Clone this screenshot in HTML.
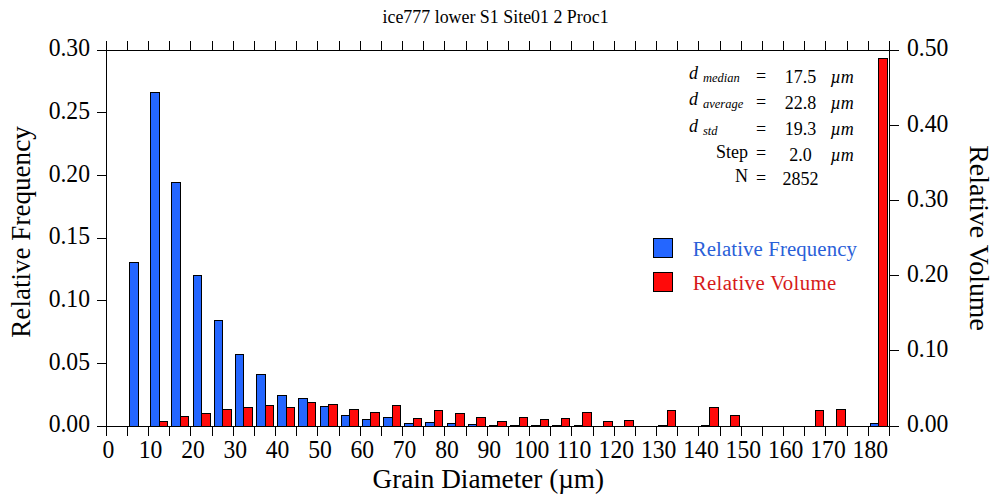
<!DOCTYPE html><html><head><meta charset="utf-8"><style>html,body{margin:0;padding:0;background:#fff;}svg{display:block;}text{font-family:"Liberation Serif",serif;}</style></head><body>
<svg width="1000" height="501" viewBox="0 0 1000 501">
<rect x="0" y="0" width="1000" height="501" fill="#fff"/>
<g stroke="#000" stroke-width="1" shape-rendering="crispEdges">
<rect x="129.5" y="262.5" width="9.0" height="164.0" fill="#2466ff"/>
<rect x="150.5" y="92.5" width="9.0" height="334.0" fill="#2466ff"/>
<rect x="159.5" y="421.5" width="8.0" height="5.0" fill="#ff0a0a"/>
<rect x="171.5" y="182.5" width="9.0" height="244.0" fill="#2466ff"/>
<rect x="180.5" y="416.5" width="8.0" height="10.0" fill="#ff0a0a"/>
<rect x="193.5" y="275.5" width="8.0" height="151.0" fill="#2466ff"/>
<rect x="201.5" y="413.5" width="9.0" height="13.0" fill="#ff0a0a"/>
<rect x="214.5" y="320.5" width="8.0" height="106.0" fill="#2466ff"/>
<rect x="222.5" y="409.5" width="9.0" height="17.0" fill="#ff0a0a"/>
<rect x="235.5" y="354.5" width="8.0" height="72.0" fill="#2466ff"/>
<rect x="243.5" y="407.5" width="9.0" height="19.0" fill="#ff0a0a"/>
<rect x="256.5" y="374.5" width="9.0" height="52.0" fill="#2466ff"/>
<rect x="265.5" y="405.5" width="8.0" height="21.0" fill="#ff0a0a"/>
<rect x="277.5" y="395.5" width="9.0" height="31.0" fill="#2466ff"/>
<rect x="286.5" y="407.5" width="8.0" height="19.0" fill="#ff0a0a"/>
<rect x="298.5" y="398.5" width="9.0" height="28.0" fill="#2466ff"/>
<rect x="307.5" y="402.5" width="8.0" height="24.0" fill="#ff0a0a"/>
<rect x="320.5" y="406.5" width="8.0" height="20.0" fill="#2466ff"/>
<rect x="328.5" y="404.5" width="9.0" height="22.0" fill="#ff0a0a"/>
<rect x="341.5" y="415.5" width="8.0" height="11.0" fill="#2466ff"/>
<rect x="349.5" y="409.5" width="9.0" height="17.0" fill="#ff0a0a"/>
<rect x="362.5" y="419.5" width="8.0" height="7.0" fill="#2466ff"/>
<rect x="370.5" y="412.5" width="9.0" height="14.0" fill="#ff0a0a"/>
<rect x="383.5" y="417.5" width="9.0" height="9.0" fill="#2466ff"/>
<rect x="392.5" y="405.5" width="8.0" height="21.0" fill="#ff0a0a"/>
<rect x="404.5" y="423.5" width="9.0" height="3.0" fill="#2466ff"/>
<rect x="413.5" y="418.5" width="8.0" height="8.0" fill="#ff0a0a"/>
<rect x="425.5" y="422.5" width="9.0" height="4.0" fill="#2466ff"/>
<rect x="434.5" y="410.5" width="8.0" height="16.0" fill="#ff0a0a"/>
<rect x="447.5" y="423.5" width="8.0" height="3.0" fill="#2466ff"/>
<rect x="455.5" y="413.5" width="9.0" height="13.0" fill="#ff0a0a"/>
<rect x="468.5" y="424.5" width="8.0" height="2.0" fill="#2466ff"/>
<rect x="476.5" y="417.5" width="9.0" height="9.0" fill="#ff0a0a"/>
<rect x="489.5" y="425.5" width="8.0" height="1.0" fill="#2466ff"/>
<rect x="497.5" y="421.5" width="9.0" height="5.0" fill="#ff0a0a"/>
<rect x="510.5" y="425.5" width="9.0" height="1.0" fill="#2466ff"/>
<rect x="519.5" y="417.5" width="8.0" height="9.0" fill="#ff0a0a"/>
<rect x="531.5" y="425.5" width="9.0" height="1.0" fill="#2466ff"/>
<rect x="540.5" y="419.5" width="8.0" height="7.0" fill="#ff0a0a"/>
<rect x="552.5" y="425.5" width="9.0" height="1.0" fill="#2466ff"/>
<rect x="561.5" y="418.5" width="8.0" height="8.0" fill="#ff0a0a"/>
<rect x="574.5" y="425.5" width="8.0" height="1.0" fill="#2466ff"/>
<rect x="582.5" y="412.5" width="9.0" height="14.0" fill="#ff0a0a"/>
<rect x="603.5" y="421.5" width="9.0" height="5.0" fill="#ff0a0a"/>
<rect x="624.5" y="420.5" width="9.0" height="6.0" fill="#ff0a0a"/>
<rect x="658.5" y="425.5" width="9.0" height="1.0" fill="#2466ff"/>
<rect x="667.5" y="410.5" width="8.0" height="16.0" fill="#ff0a0a"/>
<rect x="701.5" y="425.5" width="8.0" height="1.0" fill="#2466ff"/>
<rect x="709.5" y="407.5" width="9.0" height="19.0" fill="#ff0a0a"/>
<rect x="730.5" y="415.5" width="9.0" height="11.0" fill="#ff0a0a"/>
<rect x="815.5" y="410.5" width="8.0" height="16.0" fill="#ff0a0a"/>
<rect x="836.5" y="409.5" width="9.0" height="17.0" fill="#ff0a0a"/>
<rect x="870.5" y="423.5" width="8.0" height="3.0" fill="#2466ff"/>
<rect x="878.5" y="58.5" width="9.0" height="368.0" fill="#ff0a0a"/>
</g>
<g stroke="#000" stroke-width="1" shape-rendering="crispEdges" fill="none">
<line x1="97" y1="426.5" x2="899" y2="426.5"/>
<line x1="97" y1="50.5" x2="899" y2="50.5"/>
<line x1="106.5" y1="50" x2="106.5" y2="427"/>
<line x1="889.5" y1="50" x2="889.5" y2="427"/>
<line x1="106.5" y1="41" x2="106.5" y2="51"/>
<line x1="106.5" y1="426" x2="106.5" y2="436"/>
<line x1="127.5" y1="41" x2="127.5" y2="51"/>
<line x1="127.5" y1="426" x2="127.5" y2="436"/>
<line x1="148.5" y1="41" x2="148.5" y2="51"/>
<line x1="148.5" y1="426" x2="148.5" y2="436"/>
<line x1="169.5" y1="41" x2="169.5" y2="51"/>
<line x1="169.5" y1="426" x2="169.5" y2="436"/>
<line x1="190.5" y1="41" x2="190.5" y2="51"/>
<line x1="190.5" y1="426" x2="190.5" y2="436"/>
<line x1="212.5" y1="41" x2="212.5" y2="51"/>
<line x1="212.5" y1="426" x2="212.5" y2="436"/>
<line x1="233.5" y1="41" x2="233.5" y2="51"/>
<line x1="233.5" y1="426" x2="233.5" y2="436"/>
<line x1="254.5" y1="41" x2="254.5" y2="51"/>
<line x1="254.5" y1="426" x2="254.5" y2="436"/>
<line x1="275.5" y1="41" x2="275.5" y2="51"/>
<line x1="275.5" y1="426" x2="275.5" y2="436"/>
<line x1="296.5" y1="41" x2="296.5" y2="51"/>
<line x1="296.5" y1="426" x2="296.5" y2="436"/>
<line x1="317.5" y1="41" x2="317.5" y2="51"/>
<line x1="317.5" y1="426" x2="317.5" y2="436"/>
<line x1="339.5" y1="41" x2="339.5" y2="51"/>
<line x1="339.5" y1="426" x2="339.5" y2="436"/>
<line x1="360.5" y1="41" x2="360.5" y2="51"/>
<line x1="360.5" y1="426" x2="360.5" y2="436"/>
<line x1="381.5" y1="41" x2="381.5" y2="51"/>
<line x1="381.5" y1="426" x2="381.5" y2="436"/>
<line x1="402.5" y1="41" x2="402.5" y2="51"/>
<line x1="402.5" y1="426" x2="402.5" y2="436"/>
<line x1="423.5" y1="41" x2="423.5" y2="51"/>
<line x1="423.5" y1="426" x2="423.5" y2="436"/>
<line x1="444.5" y1="41" x2="444.5" y2="51"/>
<line x1="444.5" y1="426" x2="444.5" y2="436"/>
<line x1="466.5" y1="41" x2="466.5" y2="51"/>
<line x1="466.5" y1="426" x2="466.5" y2="436"/>
<line x1="487.5" y1="41" x2="487.5" y2="51"/>
<line x1="487.5" y1="426" x2="487.5" y2="436"/>
<line x1="508.5" y1="41" x2="508.5" y2="51"/>
<line x1="508.5" y1="426" x2="508.5" y2="436"/>
<line x1="529.5" y1="41" x2="529.5" y2="51"/>
<line x1="529.5" y1="426" x2="529.5" y2="436"/>
<line x1="550.5" y1="41" x2="550.5" y2="51"/>
<line x1="550.5" y1="426" x2="550.5" y2="436"/>
<line x1="571.5" y1="41" x2="571.5" y2="51"/>
<line x1="571.5" y1="426" x2="571.5" y2="436"/>
<line x1="593.5" y1="41" x2="593.5" y2="51"/>
<line x1="593.5" y1="426" x2="593.5" y2="436"/>
<line x1="614.5" y1="41" x2="614.5" y2="51"/>
<line x1="614.5" y1="426" x2="614.5" y2="436"/>
<line x1="635.5" y1="41" x2="635.5" y2="51"/>
<line x1="635.5" y1="426" x2="635.5" y2="436"/>
<line x1="656.5" y1="41" x2="656.5" y2="51"/>
<line x1="656.5" y1="426" x2="656.5" y2="436"/>
<line x1="677.5" y1="41" x2="677.5" y2="51"/>
<line x1="677.5" y1="426" x2="677.5" y2="436"/>
<line x1="698.5" y1="41" x2="698.5" y2="51"/>
<line x1="698.5" y1="426" x2="698.5" y2="436"/>
<line x1="720.5" y1="41" x2="720.5" y2="51"/>
<line x1="720.5" y1="426" x2="720.5" y2="436"/>
<line x1="741.5" y1="41" x2="741.5" y2="51"/>
<line x1="741.5" y1="426" x2="741.5" y2="436"/>
<line x1="762.5" y1="41" x2="762.5" y2="51"/>
<line x1="762.5" y1="426" x2="762.5" y2="436"/>
<line x1="783.5" y1="41" x2="783.5" y2="51"/>
<line x1="783.5" y1="426" x2="783.5" y2="436"/>
<line x1="804.5" y1="41" x2="804.5" y2="51"/>
<line x1="804.5" y1="426" x2="804.5" y2="436"/>
<line x1="825.5" y1="41" x2="825.5" y2="51"/>
<line x1="825.5" y1="426" x2="825.5" y2="436"/>
<line x1="847.5" y1="41" x2="847.5" y2="51"/>
<line x1="847.5" y1="426" x2="847.5" y2="436"/>
<line x1="868.5" y1="41" x2="868.5" y2="51"/>
<line x1="868.5" y1="426" x2="868.5" y2="436"/>
<line x1="889.5" y1="41" x2="889.5" y2="51"/>
<line x1="889.5" y1="426" x2="889.5" y2="436"/>
<line x1="97" y1="426.5" x2="107" y2="426.5"/>
<line x1="97" y1="363.5" x2="107" y2="363.5"/>
<line x1="97" y1="300.5" x2="107" y2="300.5"/>
<line x1="97" y1="238.5" x2="107" y2="238.5"/>
<line x1="97" y1="175.5" x2="107" y2="175.5"/>
<line x1="97" y1="112.5" x2="107" y2="112.5"/>
<line x1="97" y1="50.5" x2="107" y2="50.5"/>
<line x1="889" y1="426.5" x2="899" y2="426.5"/>
<line x1="889" y1="350.5" x2="899" y2="350.5"/>
<line x1="889" y1="275.5" x2="899" y2="275.5"/>
<line x1="889" y1="200.5" x2="899" y2="200.5"/>
<line x1="889" y1="125.5" x2="899" y2="125.5"/>
<line x1="889" y1="50.5" x2="899" y2="50.5"/>
</g>
<g font-size="24" fill="#000">
<text transform="translate(90,432.3) scale(0.985,1.05)" text-anchor="end">0.00</text>
<text transform="translate(90,369.6) scale(0.985,1.05)" text-anchor="end">0.05</text>
<text transform="translate(90,307.0) scale(0.985,1.05)" text-anchor="end">0.10</text>
<text transform="translate(90,244.3) scale(0.985,1.05)" text-anchor="end">0.15</text>
<text transform="translate(90,181.6) scale(0.985,1.05)" text-anchor="end">0.20</text>
<text transform="translate(90,119.0) scale(0.985,1.05)" text-anchor="end">0.25</text>
<text transform="translate(90,56.3) scale(0.985,1.05)" text-anchor="end">0.30</text>
<text transform="translate(907,432.3) scale(0.985,1.05)">0.00</text>
<text transform="translate(907,357.1) scale(0.985,1.05)">0.10</text>
<text transform="translate(907,281.9) scale(0.985,1.05)">0.20</text>
<text transform="translate(907,206.7) scale(0.985,1.05)">0.30</text>
<text transform="translate(907,131.5) scale(0.985,1.05)">0.40</text>
<text transform="translate(907,56.3) scale(0.985,1.05)">0.50</text>
<text transform="translate(108.3,458) scale(0.985,1.05)" text-anchor="middle">0</text>
<text transform="translate(150.6,458) scale(0.985,1.05)" text-anchor="middle">10</text>
<text transform="translate(193.0,458) scale(0.985,1.05)" text-anchor="middle">20</text>
<text transform="translate(235.3,458) scale(0.985,1.05)" text-anchor="middle">30</text>
<text transform="translate(277.6,458) scale(0.985,1.05)" text-anchor="middle">40</text>
<text transform="translate(320.0,458) scale(0.985,1.05)" text-anchor="middle">50</text>
<text transform="translate(362.3,458) scale(0.985,1.05)" text-anchor="middle">60</text>
<text transform="translate(404.6,458) scale(0.985,1.05)" text-anchor="middle">70</text>
<text transform="translate(447.0,458) scale(0.985,1.05)" text-anchor="middle">80</text>
<text transform="translate(489.3,458) scale(0.985,1.05)" text-anchor="middle">90</text>
<text transform="translate(531.7,458) scale(0.985,1.05)" text-anchor="middle">100</text>
<text transform="translate(574.0,458) scale(0.985,1.05)" text-anchor="middle">110</text>
<text transform="translate(616.3,458) scale(0.985,1.05)" text-anchor="middle">120</text>
<text transform="translate(658.7,458) scale(0.985,1.05)" text-anchor="middle">130</text>
<text transform="translate(701.0,458) scale(0.985,1.05)" text-anchor="middle">140</text>
<text transform="translate(743.3,458) scale(0.985,1.05)" text-anchor="middle">150</text>
<text transform="translate(785.7,458) scale(0.985,1.05)" text-anchor="middle">160</text>
<text transform="translate(828.0,458) scale(0.985,1.05)" text-anchor="middle">170</text>
<text transform="translate(870.3,458) scale(0.985,1.05)" text-anchor="middle">180</text>
</g>
<text x="495.55" y="22.7" font-size="17.9" text-anchor="middle">ice777 lower S1 Site01 2 Proc1</text>
<text x="488.3" y="488.2" font-size="27.2" text-anchor="middle">Grain Diameter (µm)</text>
<text transform="translate(30.0,232) rotate(-90)" font-size="27.1" text-anchor="middle">Relative Frequency</text>
<text transform="translate(969.6,238.1) rotate(90)" font-size="27.9" text-anchor="middle">Relative Volume</text>
<text x="689" y="79.0" font-size="18" font-style="italic">d</text>
<text x="703" y="82.0" font-size="12.5" font-style="italic">median</text>
<text x="689" y="105.0" font-size="18" font-style="italic">d</text>
<text x="703" y="108.0" font-size="12.5" font-style="italic">average</text>
<text x="689" y="131.5" font-size="18" font-style="italic">d</text>
<text x="703" y="134.5" font-size="12.5" font-style="italic">std</text>
<text x="761" y="81.7" font-size="18" text-anchor="middle">=</text>
<text x="761" y="108.0" font-size="18" text-anchor="middle">=</text>
<text x="761" y="135.0" font-size="18" text-anchor="middle">=</text>
<text x="761" y="159.3" font-size="18" text-anchor="middle">=</text>
<text x="761" y="183.8" font-size="18" text-anchor="middle">=</text>
<text x="800.5" y="82.8" font-size="18" text-anchor="middle">17.5</text>
<text x="800.5" y="108.8" font-size="18" text-anchor="middle">22.8</text>
<text x="800.5" y="135" font-size="18" text-anchor="middle">19.3</text>
<text x="800.5" y="160.5" font-size="18" text-anchor="middle">2.0</text>
<text x="800.5" y="184.5" font-size="18" text-anchor="middle">2852</text>
<text x="830.5" y="82.8" font-size="18" font-style="italic">µm</text>
<text x="830.5" y="108.8" font-size="18" font-style="italic">µm</text>
<text x="830.5" y="135" font-size="18" font-style="italic">µm</text>
<text x="830.5" y="160.5" font-size="18" font-style="italic">µm</text>
<text x="748" y="157.5" font-size="18" text-anchor="end">Step</text>
<text x="748" y="182.0" font-size="18" text-anchor="end">N</text>
<rect x="653.5" y="238.5" width="19" height="19" fill="#2466ff" stroke="#000" stroke-width="1" shape-rendering="crispEdges"/>
<rect x="653.5" y="272.5" width="19" height="19" fill="#ff0a0a" stroke="#000" stroke-width="1" shape-rendering="crispEdges"/>
<text x="692.8" y="255.8" font-size="20.8" textLength="164.1" lengthAdjust="spacing" fill="#2a60d8">Relative Frequency</text>
<text x="692.8" y="289.8" font-size="20.8" textLength="143.5" lengthAdjust="spacing" fill="#d61a1a">Relative Volume</text>
</svg></body></html>
